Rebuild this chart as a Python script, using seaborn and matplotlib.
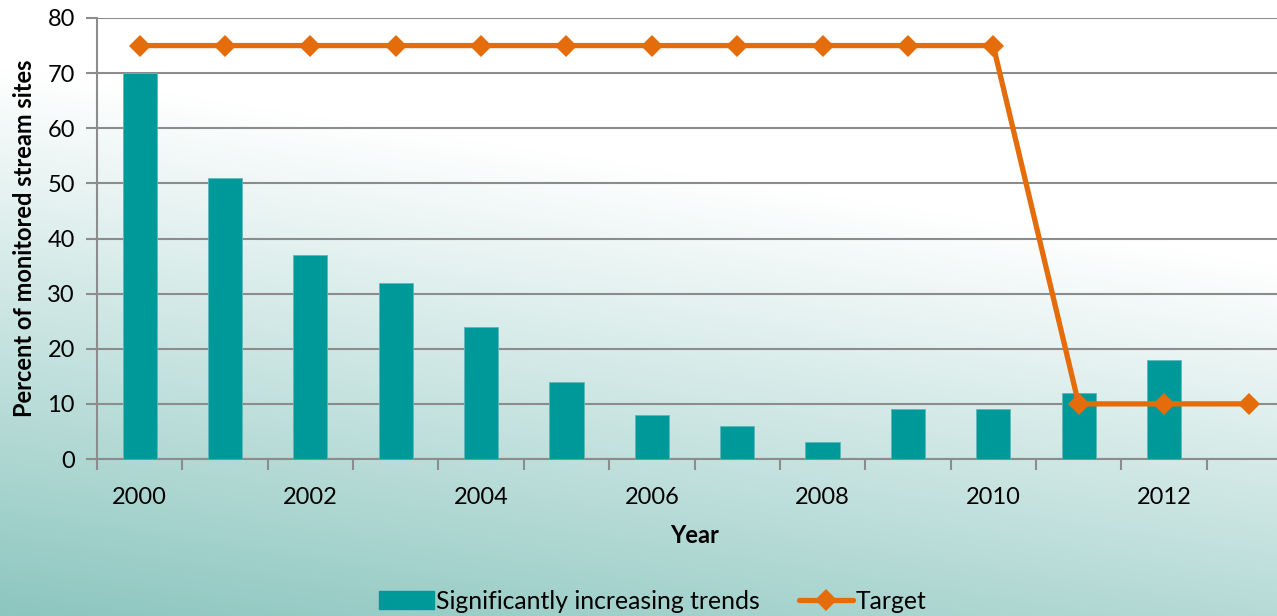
import numpy as np
import pandas as pd
import matplotlib
matplotlib.use("Agg")
import matplotlib.pyplot as plt
from matplotlib.lines import Line2D
from matplotlib.patches import Patch
import seaborn as sns

# ---- data ----
bar_years = [2000, 2001, 2002, 2003, 2004, 2005, 2006, 2007, 2008, 2009, 2010, 2011, 2012]
bar_values = [70, 51, 37, 32, 24, 14, 8, 6, 3, 9, 9, 12, 18]
target_years = [2000, 2001, 2002, 2003, 2004, 2005, 2006, 2007, 2008, 2009, 2010, 2011, 2012, 2013]
target_values = [75, 75, 75, 75, 75, 75, 75, 75, 75, 75, 75, 10, 10, 10]
label_years = [2000, 2002, 2004, 2006, 2008, 2010, 2012]
y_ticks = [0, 10, 20, 30, 40, 50, 60, 70, 80]

bar_name = "Significantly increasing trends"
line_name = "Target"

sns.set_theme(style="white")
plt.rcParams['font.family'] = ['Lato', 'DejaVu Sans']

BAR = "#009999"
ORANGE = "#E46C0A"
GRID = "#8c8c8c"

W, H = 1277, 616
fig = plt.figure(figsize=(W / 100, H / 100), dpi=100)

# background gradient
bg = fig.add_axes([0, 0, 1, 1], zorder=-10)
yy, xx = np.mgrid[0:H, 0:W]
v = yy / H + 0.321 * (1 - xx / W)
s = np.clip((v - 0.429) / 0.893, 0, 1)
white = np.array([255, 255, 255]) / 255
dark = np.array([140, 198, 191]) / 255
img = white[None, None, :] + s[..., None] * (dark - white)[None, None, :]
bg.imshow(img, aspect="auto", extent=[0, 1, 0, 1], origin="upper")
bg.axis("off")

left = 97 / W
bottom = (H - 459) / H
height = (459 - 18) / H
width = (1292 - 97) / W
ax = fig.add_axes([left, bottom, width, height])
ax.patch.set_alpha(0)

df_bar = pd.DataFrame({"year": bar_years, "value": bar_values})
df_line = pd.DataFrame({"year": target_years, "value": target_values})

sns.barplot(data=df_bar, x="year", y="value", native_scale=True, width=0.4,
            color=BAR, saturation=1, edgecolor="#5fb8b8", linewidth=0.6, ax=ax, zorder=3)
sns.lineplot(data=df_line, x="year", y="value", color=ORANGE, linewidth=3.8,
             marker="D", markersize=11, markeredgewidth=0, ax=ax, zorder=4)

ax.set_xlim(1999.5, 2013.5)
ax.set_ylim(0, 80)
ax.set_yticks(y_ticks)
ax.set_xticks(label_years)
ax.set_xticklabels([str(y) for y in label_years])
ax.set_xticks(np.arange(1999.5, 2014.0, 1.0), minor=True)

ax.tick_params(axis="x", which="major", length=0, labelsize=17, pad=20, colors="black")
ax.tick_params(axis="x", which="minor", length=8, width=1.5, color=GRID, direction="out", bottom=True)
ax.tick_params(axis="y", which="major", length=8, width=1.5, color=GRID, direction="out",
               labelsize=17, pad=8, left=True, labelcolor="black")

ax.yaxis.grid(True, color=GRID, linewidth=1.5, zorder=0)
ax.set_axisbelow(True)
for sp in ["top", "right"]:
    ax.spines[sp].set_visible(False)
for sp in ["left", "bottom"]:
    ax.spines[sp].set_color(GRID)
    ax.spines[sp].set_linewidth(1.5)

ax.set_xlabel("Year", fontsize=17, fontweight="bold", labelpad=12, color="black")
ax.set_ylabel("Percent of monitored stream sites", fontsize=17, fontweight="bold",
              color="black")
ax.yaxis.set_label_coords(-0.051, 0.5)

handles = [Patch(facecolor=BAR, edgecolor=BAR),
           Line2D([0], [0], color=ORANGE, linewidth=3.8, marker="D", markersize=11,
                  markeredgewidth=0)]
leg = fig.legend(handles, [bar_name, line_name], loc="center",
                 bbox_to_anchor=(0.511, 0.024), ncol=2, frameon=False, fontsize=17.8,
                 handlelength=2.2, handleheight=0.7, handletextpad=0.08, columnspacing=1.6,
                 borderpad=0, borderaxespad=0)
for t in leg.get_texts():
    t.set_color("black")

fig.savefig("out.png", dpi=100)
